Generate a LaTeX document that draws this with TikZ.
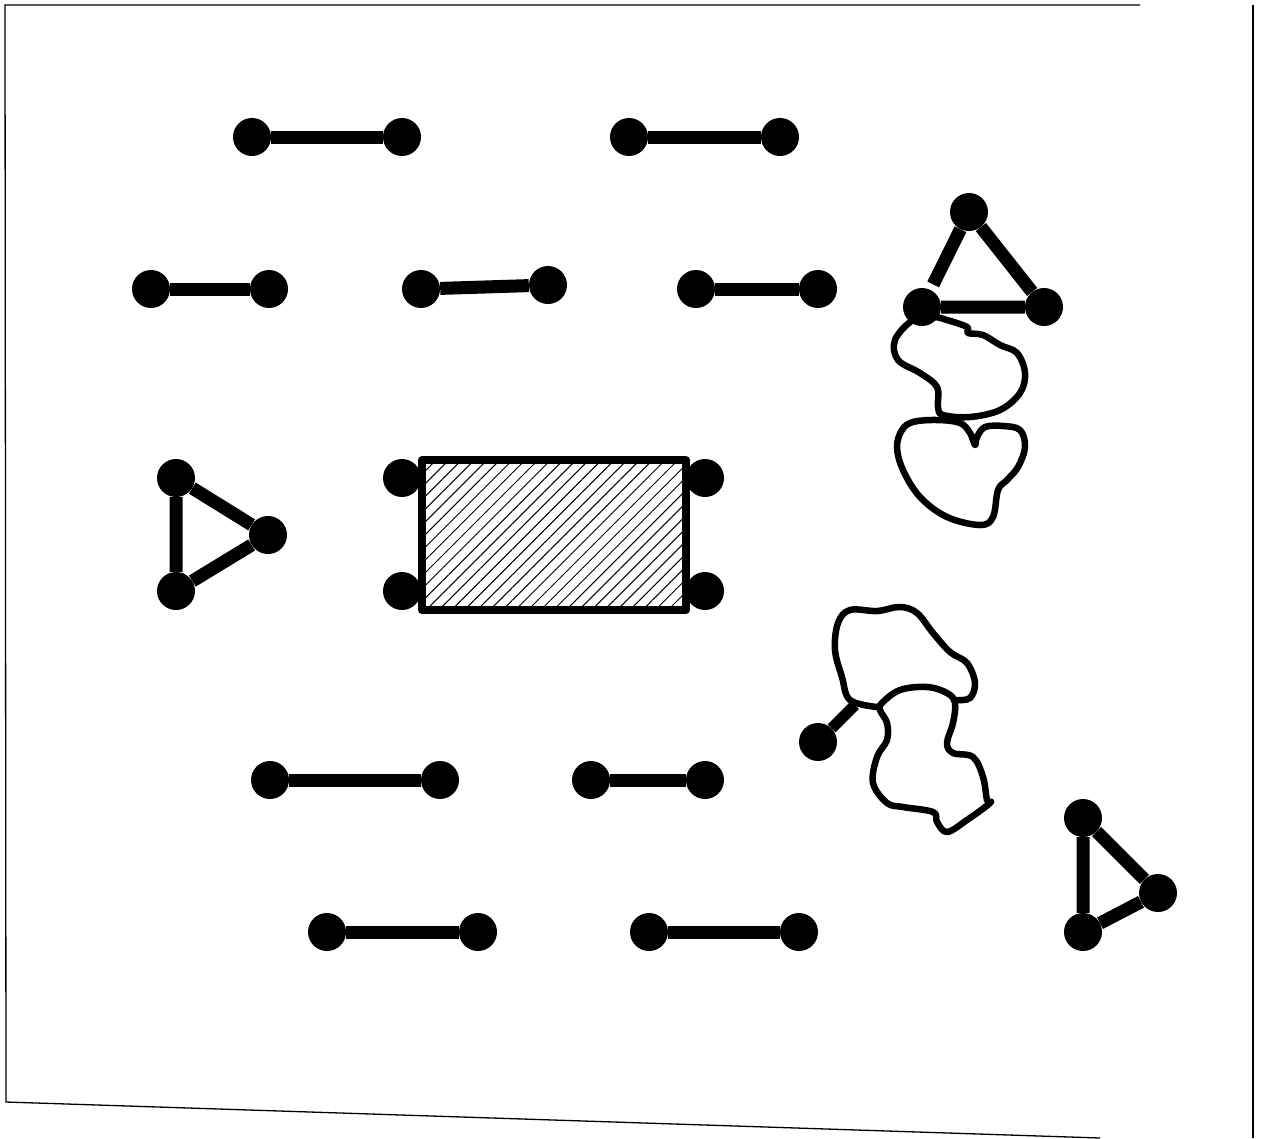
\documentclass[tikz,border=0pt]{standalone}
\usetikzlibrary{patterns.meta}
\begin{document}
\begin{tikzpicture}[x=1pt,y=-1pt,
  dot/.style={circle,fill=black,inner sep=0pt,minimum size=38pt},
  bar/.style={line width=13pt},
  blob/.style={line width=6.5pt,line join=round,line cap=round},
  frame/.style={line width=1.3pt}]
\useasboundingbox (0,0) rectangle (1266,1138);
% frame
\coordinate (f1) at (5,5);
\coordinate (f2) at (1140,5);
\coordinate (f3) at (6,1102);
\coordinate (f4) at (1100,1138);
\coordinate (f5) at (1253,5);
\coordinate (f6) at (1253,1138);
\draw[frame] (f2) -- (f1) -- (f3) -- (f4);
\draw[frame] (f5) -- (f6);
% rectangle
\fill[pattern={Lines[angle=45,distance=9pt,line width=1pt]}] (422,460) rectangle (686,610);
\draw[line width=7.5pt,line join=round] (422,460) rectangle (686,610);
% dots
\node[dot] (a1) at (252,137) {};
\node[dot] (a2) at (402,137) {};
\node[dot] (b1) at (629,137) {};
\node[dot] (b2) at (780,137) {};
\node[dot] (c1) at (151,289) {};
\node[dot] (c2) at (269,289) {};
\node[dot] (d1) at (421,289) {};
\node[dot] (d2) at (548,285) {};
\node[dot] (e1) at (696,289) {};
\node[dot] (e2) at (818,289) {};
\node[dot] (t1) at (969,212) {};
\node[dot] (t2) at (922,307) {};
\node[dot] (t3) at (1044,307) {};
\node[dot] (l1) at (176,478) {};
\node[dot] (l2) at (176,591) {};
\node[dot] (l3) at (268,535) {};
\node[dot] (r1) at (402,478) {};
\node[dot] (r2) at (705,478) {};
\node[dot] (r3) at (402,591) {};
\node[dot] (r4) at (705,591) {};
\node[dot] (g1) at (270,780) {};
\node[dot] (g2) at (440,780) {};
\node[dot] (h1) at (591,780) {};
\node[dot] (h2) at (705,780) {};
\node[dot] (i1) at (327,932) {};
\node[dot] (i2) at (478,932) {};
\node[dot] (j1) at (649,932) {};
\node[dot] (j2) at (799,932) {};
\node[dot] (u1) at (1083,818) {};
\node[dot] (u2) at (1158,893) {};
\node[dot] (u3) at (1083,932) {};
\node[dot] (s1) at (818,742) {};
\coordinate (s2) at (855,705);
% bars
\draw[bar] (a1) -- (a2);
\draw[bar] (b1) -- (b2);
\draw[bar] (c1) -- (c2);
\draw[bar] (d1) -- (d2);
\draw[bar] (e1) -- (e2);
\draw[bar] (t1) -- (t3) -- (t2);
\draw[bar,shorten >=6pt] (t1) -- (t2);
\draw[bar] (l1) -- (l2) -- (l3) -- (l1);
\draw[bar] (g1) -- (g2);
\draw[bar] (h1) -- (h2);
\draw[bar] (i1) -- (i2);
\draw[bar] (j1) -- (j2);
\draw[bar] (u1) -- (u3) -- (u2) -- (u1);
\draw[line width=11pt] (s1) -- (s2);
% blobs
\draw[blob] plot[smooth cycle,tension=0.6] coordinates {
 (913,320) (895,340) (898,360) (920,373) (937,387) (938,407) (943,415)
 (970,417) (1000,410) (1020,393) (1025,373) (1017,353) (1000,345)
 (983,335) (968,333) (967,327) (947,320) (933,317)};
\draw[blob] plot[smooth cycle,tension=0.6] coordinates {
 (902,430) (897,447) (903,470) (920,497) (947,517) (980,525) (993,517)
 (998,490) (1007,480) (1018,467) (1025,447) (1020,430) (1003,426)
 (985,427) (977,437) (975,445) (970,433) (960,423) (937,420) (913,422)};
\draw[blob] plot[smooth,tension=0.6] coordinates {
 (957,700) (970,698) (975,683) (967,663) (950,652) (933,633) (917,613)
 (900,607) (877,611) (850,610) (838,623) (835,650) (842,677) (850,700) (877,707)};
\draw[blob] plot[smooth cycle,tension=0.6] coordinates {
 (882,703) (900,690) (927,687) (947,693) (955,703) (953,723) (947,743)
 (953,753) (973,757) (983,777) (987,800) (990,803) (967,820) (947,832)
 (937,822) (933,812) (903,807) (887,803) (873,783) (877,757) (887,740)
 (887,723) (880,710)};
\end{tikzpicture}
\end{document}
